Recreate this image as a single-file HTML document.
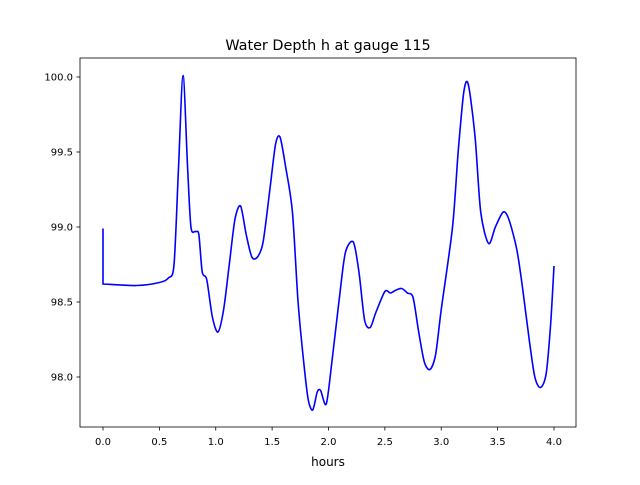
<!DOCTYPE html>
<html><head><meta charset="utf-8"><style>
body{margin:0;background:#fff;font-family:"Liberation Sans","DejaVu Sans",sans-serif;}
svg text{font-family:"DejaVu Sans","Liberation Sans",sans-serif;}
</style></head><body>
<svg id="chart" width="640" height="480" xmlns="http://www.w3.org/2000/svg">
<rect width="640" height="480" fill="#fff"/>
<text x="328" y="50" font-size="14.4" text-anchor="middle">Water Depth h at gauge 115</text>
<g id="ticks"></g>
<path id="line" fill="none" stroke="#0000ff" stroke-width="1.6"/>
<rect x="80" y="58" width="496" height="369" fill="none" stroke="#000" stroke-width="0.8"/>
<text x="328" y="466" font-size="12" text-anchor="middle">hours</text>
</svg>
<script>
const times=[0,0,0.3,0.5,0.58,0.63,0.67,0.71,0.75,0.78,0.82,0.85,0.88,0.92,0.97,1.02,1.07,1.12,1.17,1.22,1.27,1.32,1.37,1.42,1.48,1.53,1.57,1.62,1.68,1.73,1.78,1.82,1.86,1.9,1.93,1.98,2.03,2.1,2.15,2.22,2.27,2.32,2.37,2.42,2.5,2.55,2.6,2.65,2.7,2.75,2.8,2.85,2.9,2.95,3.0,3.1,3.15,3.2,3.24,3.3,3.35,3.42,3.48,3.55,3.6,3.67,3.72,3.78,3.83,3.88,3.93,3.97,4.0];
const depths=[98.99,98.62,98.61,98.63,98.66,98.75,99.4,100.01,99.4,99.0,98.97,98.95,98.7,98.65,98.4,98.3,98.45,98.75,99.05,99.14,98.95,98.8,98.8,98.9,99.25,99.55,99.6,99.4,99.1,98.5,98.1,97.85,97.78,97.9,97.91,97.82,98.1,98.55,98.83,98.9,98.7,98.38,98.33,98.43,98.57,98.56,98.58,98.59,98.56,98.53,98.3,98.1,98.05,98.15,98.45,99.0,99.5,99.9,99.95,99.6,99.1,98.89,99.0,99.1,99.05,98.85,98.6,98.25,98.0,97.93,98.02,98.35,98.74];
const xTicks=[0,0.5,1,1.5,2,2.5,3,3.5,4];
const yTicks=[98,98.5,99,99.5,100];
const xs=t=>103+t*112.75;
const ys=v=>377-(v-98)*150;
const NS="http://www.w3.org/2000/svg";
const g=document.getElementById('ticks');
function mk(tag,a){const e=document.createElementNS(NS,tag);for(const k in a)e.setAttribute(k,a[k]);g.appendChild(e);return e;}
xTicks.forEach(t=>{
 const l=mk('line',{x1:xs(t),x2:xs(t),y1:427,y2:430.5,stroke:'#000','stroke-width':0.8});
 
 
 const tx=mk('text',{x:xs(t),y:445,'font-size':10,'text-anchor':'middle'});
 tx.textContent=t.toFixed(1);
 
 
});
yTicks.forEach(v=>{
 const l=mk('line',{x1:76.5,x2:80,y1:ys(v),y2:ys(v),stroke:'#000','stroke-width':0.8});
 
 
 const tx=mk('text',{x:73,y:ys(v)+3.5,'font-size':10,'text-anchor':'end'});
 tx.textContent=v.toFixed(1);
 
 
});
const pts=times.map((t,i)=>[xs(t),ys(depths[i])]);
let d='M'+pts[0][0]+','+pts[0][1]+' L'+pts[1][0]+','+pts[1][1];
for(let i=1;i<pts.length-1;i++){
 const p0=pts[Math.max(i-1,1)],p1=pts[i],p2=pts[i+1],p3=pts[Math.min(i+2,pts.length-1)];
 const c1=[p1[0]+(p2[0]-p0[0])/7,p1[1]+(p2[1]-p0[1])/7];
 const c2=[p2[0]-(p3[0]-p1[0])/7,p2[1]-(p3[1]-p1[1])/7];
 d+=' C'+c1+' '+c2+' '+p2;
}
document.getElementById('line').setAttribute('d',d);
</script>
</body></html>
